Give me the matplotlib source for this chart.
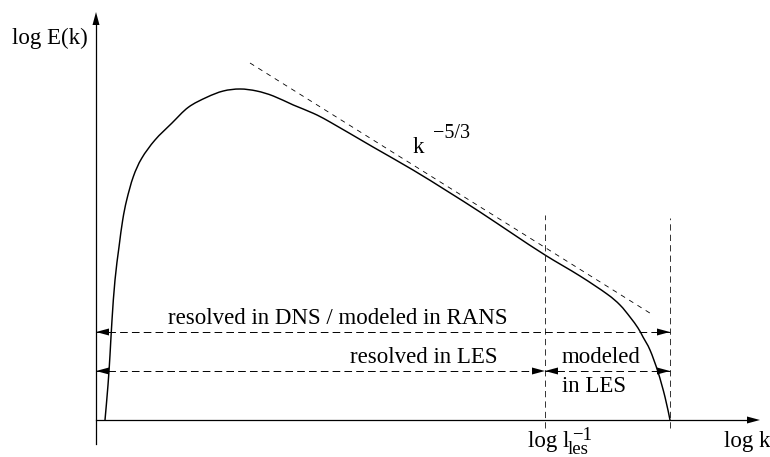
import numpy as np
import matplotlib
matplotlib.use("Agg")
import matplotlib.pyplot as plt
from matplotlib.path import Path
from matplotlib.patches import PathPatch

plt.rcParams['font.family'] = ['Liberation Serif', 'DejaVu Serif']
plt.rcParams['lines.scale_dashes'] = False

# energy spectrum, log k vs log E(k) (arbitrary units, origin at axis corner)
log_k = [9, 12, 14, 16, 19, 23, 26.7, 30.7, 37.3, 45.7, 59, 75.7, 92.3,
         110.7, 127.3, 144, 160.7, 177.3, 197.3, 217.3, 234, 277, 317, 351,
         384, 417, 449, 484, 511, 524, 534, 542, 547, 554, 562, 569, 574]
log_E = [0, 35, 65, 100, 140, 173, 200, 220, 243.3, 261.7, 280, 296.7, 312.7,
         322.7, 329, 331, 329, 324, 315, 306.7, 298, 273, 250, 229,
         208, 186, 165, 144, 126, 115, 103, 92, 83, 70, 48, 23, 0]

# k^-5/3 inertial range reference line
ref_k = [154, 557]
ref_E = [357, 105]

k_les = 449      # LES filter cutoff
k_eta = 574      # dissipation cutoff
y_dns = 88       # height of the DNS/RANS range arrow
y_les = 49       # height of the LES range arrows

fig = plt.figure(figsize=(7.7, 4.57), dpi=100)
ax = fig.add_axes([0, 0, 1, 1])
ax.set_xlim(-96, 674)
ax.set_ylim(-37, 420)
ax.axis('off')


def smooth_path(xs, ys):
    # cubic Bezier segments through the points (Catmull-Rom tangents)
    p = np.column_stack([xs, ys]).astype(float)
    verts = [p[0]]
    codes = [Path.MOVETO]
    n = len(p)
    for i in range(n - 1):
        p0 = p[max(i - 1, 0)]
        p1, p2 = p[i], p[i + 1]
        p3 = p[min(i + 2, n - 1)]
        verts += [p1 + (p2 - p0) / 6, p2 - (p3 - p1) / 6, p2]
        codes += [Path.CURVE4] * 3
    return Path(verts, codes)


def head(x, y, d, length=13, width=7):
    # filled arrow head with its tip at (x, y), pointing right (d=1) or left (d=-1)
    ax.fill([x, x - d * length, x - d * length], [y, y + width / 2, y - width / 2],
            color='black', lw=0, zorder=5)


def head_up(x, y, length=13, width=7):
    ax.fill([x, x - width / 2, x + width / 2], [y, y - length, y - length],
            color='black', lw=0, zorder=5)


# axes with arrows
ax.plot([0, 0], [-24, 396], color='black', lw=0.9)
head_up(0, 408)
ax.plot([0, 652], [0, 0], color='black', lw=0.9)
head(664, 0, 1)

# spectrum and reference slope
ax.add_patch(PathPatch(smooth_path(log_k, log_E), fill=False,
                       edgecolor='black', lw=1.05, capstyle='round'))
ax.plot(ref_k, ref_E, color='black', lw=0.6, dashes=(3.5, 3.5))

# cutoff markers
ax.plot([k_les, k_les], [-8, 205], color='#333333', lw=0.7, dashes=(4.5, 3))
ax.plot([k_eta, k_eta], [-8, 202], color='#333333', lw=0.7, dashes=(4.5, 3))

# range arrows
dash = (5.5, 3)
ax.plot([0, k_eta], [y_dns, y_dns], color='black', lw=0.7, dashes=dash)
head(0, y_dns, -1)
head(k_eta, y_dns, 1)

ax.plot([0, k_les], [y_les, y_les], color='black', lw=0.7, dashes=dash)
head(0, y_les, -1)
head(k_les, y_les, 1)
ax.plot([k_les, k_eta], [y_les, y_les], color='black', lw=0.7, dashes=dash)
head(k_les, y_les, -1)
head(k_eta, y_les, 1)

fs = 16.5
ax.text(-46, 382, 'log E(k)', fontsize=fs, ha='center', va='center')
ax.text(241.5, 96, 'resolved in DNS / modeled in RANS', fontsize=fs,
        ha='center', va='baseline')
ax.text(401, 57, 'resolved in LES', fontsize=fs, ha='right', va='baseline')
ax.text(466, 57, 'modeled', fontsize=fs, ha='left', va='baseline')
ax.text(466, 28, 'in LES', fontsize=fs, ha='left', va='baseline')

ax.text(317, 267, 'k', fontsize=fs, ha='left', va='baseline')
ax.text(355, 282, '\u22125/3', fontsize=14.5, ha='center', va='baseline')

ax.text(432, -27, 'log l', fontsize=fs, ha='left', va='baseline')
ax.text(472, -34, 'les', fontsize=13.5, ha='left', va='baseline')
ax.text(486.5, -20, '\u22121', fontsize=13.5, ha='center', va='baseline')
ax.text(674, -27, 'log k', fontsize=fs, ha='right', va='baseline')

fig.savefig('out.png', dpi=100)
